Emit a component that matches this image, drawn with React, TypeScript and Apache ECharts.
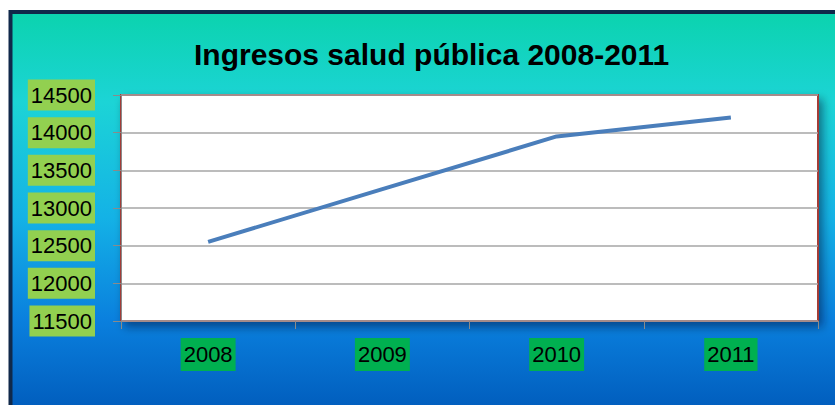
import React, { useEffect, useRef } from "react";
import * as echarts from "echarts";

const categories = ["2008", "2009", "2010", "2011"];
const ingresos = [12550, 13250, 13950, 14200];
const titleText = "Ingresos salud pública 2008-2011";

export default function App() {
  const ref = useRef<HTMLDivElement>(null);
  useEffect(() => {
    if (!ref.current) return;
    const chart = echarts.init(ref.current, null, { renderer: "svg" });
    const font = "'Liberation Sans', Arial, sans-serif";
    chart.setOption({
      animation: false,
      backgroundColor: "#ffffff",
      graphic: {
        elements: [
          {
            type: "rect",
            z: -100,
            silent: true,
            shape: { x: 10.5, y: 12, width: 840, height: 410 },
            style: {
              fill: new echarts.graphic.LinearGradient(0, 0, 0, 1, [
                { offset: 0, color: "#0bd3ae" },
                { offset: 0.22, color: "#1cd4d6" },
                { offset: 0.5, color: "#14b2e6" },
                { offset: 0.75, color: "#0a80de" },
                { offset: 1, color: "#0058b8" },
              ]),
              stroke: "#10294a",
              lineWidth: 4,
            },
          },
        ],
      },
      title: {
        text: titleText,
        left: 189,
        top: 34,
        textStyle: {
          fontFamily: font,
          fontSize: 30,
          fontWeight: "bold",
          color: "#000000",
        },
      },
      grid: {
        left: 121,
        top: 95,
        right: 17,
        bottom: 84,
        show: true,
        backgroundColor: "#ffffff",
        borderColor: "#a33c37",
        borderWidth: 2,
        shadowBlur: 10,
        shadowColor: "rgba(0,0,40,0.45)",
        shadowOffsetX: 4,
        shadowOffsetY: 5,
      },
      xAxis: {
        type: "category",
        data: categories,
        boundaryGap: true,
        axisLine: { show: false },
        axisTick: { show: true, length: 8, lineStyle: { color: "#8a8a8a" } },
        axisLabel: {
          margin: 17,
          fontFamily: font,
          fontSize: 22,
          color: "#000000",
          backgroundColor: "#00b050",
          padding: [4, 3, 4, 3],
          lineHeight: 25,
        },
      },
      yAxis: {
        type: "value",
        min: 11500,
        max: 14500,
        interval: 500,
        axisLine: { show: true, lineStyle: { color: "#8a8a8a" } },
        axisTick: { show: true, length: 8, lineStyle: { color: "#8a8a8a" } },
        splitLine: { show: true, lineStyle: { color: "#a6a6a6", width: 1.5 } },
        axisLabel: {
          margin: 26,
          formatter: (v: number) => String(v),
          fontFamily: font,
          fontSize: 22,
          color: "#000000",
          backgroundColor: "#92d050",
          padding: [3, 3, 3, 3],
          lineHeight: 25,
        },
      },
      series: [
        {
          type: "line",
          data: ingresos,
          symbol: "none",
          smooth: false,
          lineStyle: { color: "#4a7ebb", width: 4 },
        },
      ],
    });
    return () => chart.dispose();
  }, []);
  return (
    <div
      ref={ref}
      style={{ position: "fixed", left: 0, top: 0, width: 835, height: 405 }}
    />
  );
}
